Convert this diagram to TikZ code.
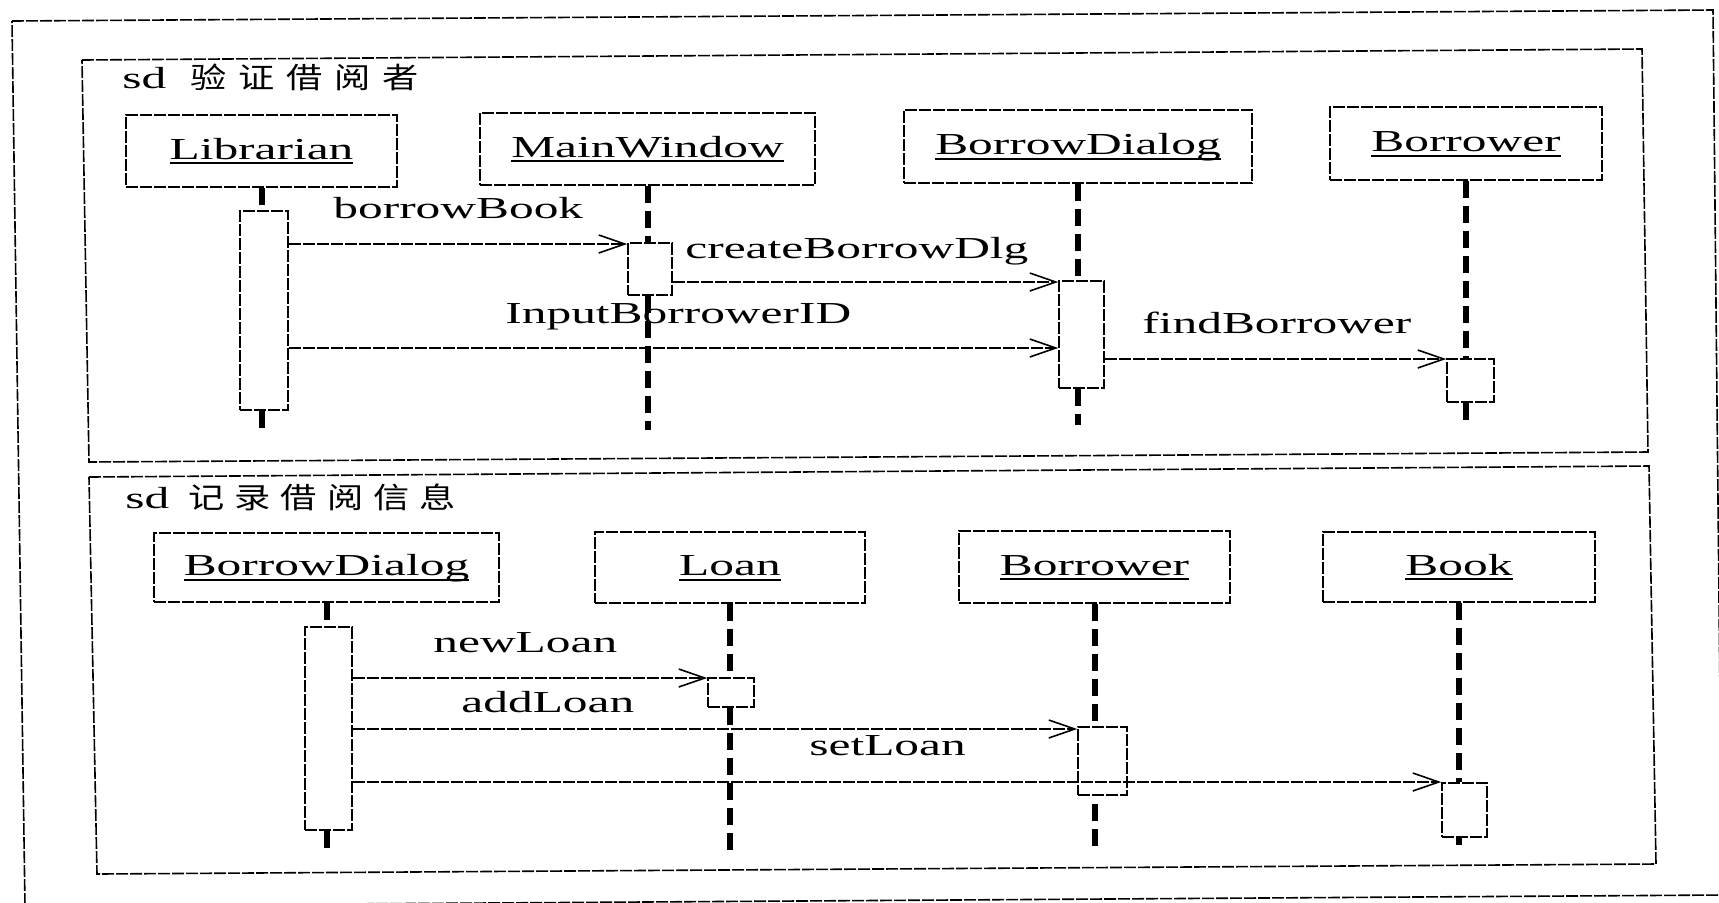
\documentclass[tikz,border=0pt]{standalone}
\usepackage{fontspec}
\setmainfont{Liberation Serif}[FakeStretch=1.62]
\newfontfamily\cjk{Noto Sans CJK SC}[FakeStretch=1.25]
\usetikzlibrary{arrows.meta,fit}

% underlined object name (UML instance)
\newsavebox\namebox
\newcommand\objname[1]{\sbox\namebox{#1}\rlap{\rule[-2.6pt]{\wd\namebox}{1pt}}\usebox\namebox}

\tikzset{
  fine/.style={line width=0.8pt, dash pattern=on 6pt off 1pt},
  sdframe/.style={fine},
  objbox/.style={draw, fine, inner sep=0pt, text height=10pt, text depth=2pt},
  actbox/.style={draw, fine, fill=white, inner sep=0pt},
  lifeline/.style={line width=3pt, dash pattern=on 8.5pt off 4pt},
  msg/.style={fine, -{Straight Barb[length=13pt,width=9pt,line width=0.8pt]}},
  lbl/.style={anchor=base west, inner sep=0pt},
  sdtitle/.style={anchor=base west, inner sep=0pt},
}

\begin{document}
\begin{tikzpicture}[x=0.5pt,y=-0.5pt,font=\fontsize{15.25pt}{18pt}\selectfont]
\useasboundingbox (0,0) rectangle (1719,902);
\fill[white] (0,0) rectangle (1719,902);

% ---- frames ----
\draw[sdframe] (12,21) -- (1713,10) -- (1722,895) -- (25,906) -- cycle;
\draw[sdframe] (82,60) -- (1642,49) -- (1648,452) -- (89,462) -- cycle;
\draw[sdframe] (89,477) -- (1649,466) -- (1656,864) -- (97,874) -- cycle;

\node[sdtitle] (title1) at (122,88) {sd\hspace{12pt}{\cjk\fontsize{14.5pt}{14.5pt}\selectfont 验\kern5.9pt 证\kern5.9pt 借\kern5.9pt 阅\kern5.9pt 者}};
\node[sdtitle] (title2) at (125,508) {sd\hspace{9.5pt}{\cjk\fontsize{14.5pt}{14.5pt}\selectfont 记\kern5pt 录\kern5pt 借\kern5pt 阅\kern5pt 信\kern5pt 息}};

% ---- sd 验证借阅者 ----
\node[objbox, minimum width=135.5pt, minimum height=36pt]   (lib) at (261.5,151)  {\objname{Librarian}};
\node[objbox, minimum width=167.5pt, minimum height=36pt]   (mw)  at (647.5,149)  {\objname{MainWindow}};
\node[objbox, minimum width=174pt,   minimum height=36.5pt] (bd)  at (1078,146.5) {\objname{BorrowDialog}};
\node[objbox, minimum width=136pt,   minimum height=36.5pt] (bor) at (1466,143.5) {\objname{Borrower}};

\node[actbox, fit={(240,211) (288,410)}] (aLib) {};
\node[actbox, fit={(628,243) (672,295)}] (aMW) {};
\node[actbox, fit={(1059,281) (1104,388)}] (aBD) {};
\node[actbox, fit={(1447,359) (1494,402)}] (aBor) {};

\coordinate (libEnd) at (lib.south |- 0,430);
\coordinate (mwEnd)  at (mw.south |- 0,430);
\coordinate (bdEnd)  at (bd.south |- 0,425);
\coordinate (borEnd) at (bor.south |- 0,423);
\draw[lifeline] (lib.south) -- (lib.south |- aLib.north);
\draw[lifeline] (lib.south |- aLib.south) -- (libEnd);
\draw[lifeline] (mw.south) -- (mw.south |- aMW.north);
\draw[lifeline] (mw.south |- aMW.south) -- (mwEnd);
\draw[lifeline] (bd.south) -- (bd.south |- aBD.north);
\draw[lifeline] (bd.south |- aBD.south) -- (bdEnd);
\draw[lifeline] (bor.south) -- (bor.south |- aBor.north);
\draw[lifeline] (bor.south |- aBor.south) -- (borEnd);

\draw[msg] (aLib.east |- 0,244) -- (aMW.west |- 0,244);
\draw[msg] (aMW.east |- 0,282) -- (aBD.west |- 0,282);
\draw[msg] (aLib.east |- 0,348) -- (aBD.west |- 0,348);
\draw[msg] (aBD.east |- 0,359) -- (aBor.west |- 0,359);

\node[lbl] (mBorrow) at (333,218) {borrowBook};
\node[lbl] (mCreate) at (685,258) {createBorrowDlg};
\node[lbl] (mInput)  at (505,323) {InputBorrowerID};
\node[lbl] (mFind)   at (1142,333) {findBorrower};

% ---- sd 记录借阅信息 ----
\node[objbox, minimum width=172.5pt, minimum height=34.5pt] (bd2)  at (326.5,567.5) {\objname{BorrowDialog}};
\node[objbox, minimum width=135pt,   minimum height=35.5pt] (loan) at (730,567.5)   {\objname{Loan}};
\node[objbox, minimum width=135.5pt, minimum height=36pt]   (bor2) at (1094.5,567)  {\objname{Borrower}};
\node[objbox, minimum width=136pt,   minimum height=35pt]   (book) at (1459,567)    {\objname{Book}};

\node[actbox, fit={(305,627) (352,830)}] (aBD2) {};
\node[actbox, fit={(708,678) (754,707)}] (aLoan) {};
\node[actbox, fit={(1078,727) (1127,795)}] (aBor2) {};
\node[actbox, fit={(1442,783) (1487,837)}] (aBook) {};

\coordinate (bd2End)  at (bd2.south |- 0,854);
\coordinate (loanEnd) at (loan.south |- 0,852);
\coordinate (bor2End) at (bor2.south |- 0,850);
\coordinate (bookEnd) at (book.south |- 0,845);
\draw[lifeline] (bd2.south) -- (bd2.south |- aBD2.north);
\draw[lifeline] (bd2.south |- aBD2.south) -- (bd2End);
\draw[lifeline] (loan.south) -- (loan.south |- aLoan.north);
\draw[lifeline] (loan.south |- aLoan.south) -- (loanEnd);
\draw[lifeline] (bor2.south) -- (bor2.south |- aBor2.north);
\draw[lifeline, dash phase=-4pt] (bor2.south |- aBor2.south) -- (bor2End);
\draw[lifeline] (book.south) -- (book.south |- aBook.north);
\draw[lifeline] (book.south |- aBook.south) -- (bookEnd);

\draw[msg] (aBD2.east |- 0,678) -- (aLoan.west |- 0,678);
\draw[msg] (aBD2.east |- 0,729) -- (aBor2.west |- 0,729);
\draw[msg] (aBD2.east |- 0,782) -- (aBook.west |- 0,782);

\node[lbl] (mNew) at (433,652) {newLoan};
\node[lbl] (mAdd) at (461,712) {addLoan};
\node[lbl] (mSet) at (809,755) {setLoan};
\end{tikzpicture}
\end{document}
